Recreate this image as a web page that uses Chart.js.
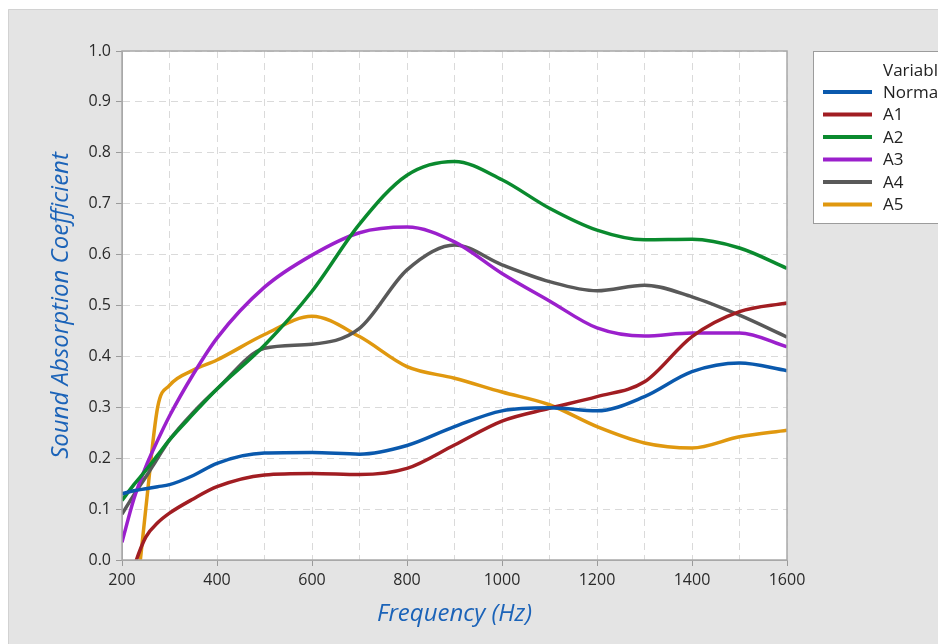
<!DOCTYPE html>
<html>
<head>
<meta charset="utf-8">
<script src="https://cdn.jsdelivr.net/npm/chart.js@4"></script>
<style>
  html, body { margin: 0; padding: 0; background: #fff; overflow: hidden; }
  #wrap { position: absolute; left: 0; top: 0; width: 938px; height: 644px; }
</style>
</head>
<body>
<div id="wrap"><canvas id="absorptionChart" width="938" height="644"></canvas></div>
<script>
// frequency points (Hz) shared by all series
const freq = [200, 225, 250, 275, 300, 350, 400, 500, 600, 700, 800, 900, 1000, 1100, 1200, 1300, 1400, 1500, 1600];

// sound absorption coefficient
const normalVals = [0.130, 0.136, 0.140, 0.144, 0.148, 0.166, 0.190, 0.210, 0.211, 0.208, 0.225, 0.262, 0.293, 0.299, 0.293, 0.321, 0.370, 0.387, 0.372];
const a1Vals     = [-0.10, -0.015, 0.045, 0.073, 0.092, 0.120, 0.144, 0.167, 0.170, 0.168, 0.180, 0.226, 0.273, 0.298, 0.321, 0.350, 0.439, 0.488, 0.505];
const a2Vals     = [0.117, 0.148, 0.176, 0.206, 0.236, 0.287, 0.336, 0.422, 0.528, 0.660, 0.756, 0.783, 0.747, 0.691, 0.648, 0.629, 0.630, 0.613, 0.573];
const a3Vals     = [0.035, 0.120, 0.183, 0.235, 0.283, 0.365, 0.436, 0.536, 0.599, 0.643, 0.654, 0.625, 0.563, 0.509, 0.456, 0.440, 0.446, 0.446, 0.419];
const a4Vals     = [0.090, 0.128, 0.163, 0.200, 0.236, 0.290, 0.336, 0.416, 0.424, 0.455, 0.570, 0.619, 0.580, 0.547, 0.529, 0.540, 0.517, 0.481, 0.438];
const a5Vals     = [-0.35, -0.12, 0.100, 0.300, 0.343, 0.373, 0.393, 0.443, 0.479, 0.439, 0.380, 0.357, 0.330, 0.305, 0.262, 0.230, 0.220, 0.242, 0.255];

const seriesNames  = ['Normal', 'A1', 'A2', 'A3', 'A4', 'A5'];
const seriesColors = ['#0a59ad', '#a11d22', '#0a8a2e', '#9b20cc', '#595959', '#e0980f'];
const seriesVals   = [normalVals, a1Vals, a2Vals, a3Vals, a4Vals, a5Vals];

const TITLE_BLUE = '#1b63b8';
const FONT = "'Open Sans', 'Noto Sans', sans-serif";

// gray panel + white plot area + plot frame
const panelPlugin = {
    id: 'panel',
    beforeDraw(chart) {
        const { ctx, chartArea: a } = chart;
        ctx.save();
        ctx.fillStyle = '#ffffff';
        ctx.fillRect(0, 0, chart.width, chart.height);
        ctx.fillStyle = '#e4e4e4';
        ctx.fillRect(8, 9, chart.width - 8, chart.height - 9);
        ctx.strokeStyle = '#d2d2d2';
        ctx.lineWidth = 1;
        ctx.beginPath();
        ctx.moveTo(8.5, chart.height);
        ctx.lineTo(8.5, 9.5);
        ctx.lineTo(chart.width, 9.5);
        ctx.stroke();
        ctx.fillStyle = '#ffffff';
        ctx.fillRect(a.left, a.top, a.right - a.left, a.bottom - a.top);
        ctx.restore();
    },
    afterDatasetsDraw(chart) {
        const { ctx, chartArea: a } = chart;
        ctx.save();
        ctx.strokeStyle = '#a8a8a8';
        ctx.lineWidth = 1.5;
        ctx.strokeRect(a.left, a.top, a.right - a.left, a.bottom - a.top);
        ctx.restore();
    }
};

// legend box on the right, cut off by the window edge like the original
const boxLegendPlugin = {
    id: 'boxLegend',
    afterDraw(chart) {
        const { ctx } = chart;
        const x0 = 813.5, y0 = 51.5;
        ctx.save();
        ctx.fillStyle = '#ffffff';
        ctx.fillRect(x0, y0, 140, 172);
        ctx.strokeStyle = '#9c9c9c';
        ctx.lineWidth = 1;
        ctx.strokeRect(x0, y0, 140, 172);
        ctx.font = '17px ' + FONT;
        ctx.fillStyle = '#222';
        ctx.textBaseline = 'middle';
        ctx.fillText('Variable', 883, 71);
        chart.data.datasets.forEach((ds, i) => {
            const y = 92 + i * 22.5;
            ctx.strokeStyle = ds.borderColor;
            ctx.lineWidth = 4;
            ctx.beginPath();
            ctx.moveTo(823, y);
            ctx.lineTo(872, y);
            ctx.stroke();
            ctx.fillStyle = '#222';
            ctx.fillText(ds.label, 883, y + 1);
        });
        ctx.restore();
    }
};

const datasets = seriesNames.map((name, i) => ({
    label: name,
    data: freq.map((f, j) => ({ x: f, y: seriesVals[i][j] })),
    borderColor: seriesColors[i],
    backgroundColor: seriesColors[i],
    borderWidth: 3.5,
    pointRadius: 0,
    cubicInterpolationMode: 'monotone',
    capBezierPoints: false,
    clip: 0
}));

new Chart(document.getElementById('absorptionChart'), {
    type: 'line',
    data: { datasets },
    options: {
        responsive: false,
        animation: false,
        layout: { padding: { left: 0, top: 51, right: 151, bottom: 0 } },
        plugins: { legend: { display: false }, tooltip: { enabled: false } },
        scales: {
            x: {
                type: 'linear',
                min: 200, max: 1600,
                afterFit: s => { s.height = 84; },
                ticks: {
                    stepSize: 100,
                    autoSkip: false,
                    maxRotation: 0,
                    padding: 5,
                    color: '#2a2a2a',
                    font: { family: FONT, size: 16 },
                    callback: v => (v % 200 === 0 ? v : '')
                },
                grid: {
                    color: '#dadada',
                    lineWidth: 1,
                    tickLength: 6,
                    tickColor: c => (c.tick && c.tick.value % 200 === 0 ? '#9a9a9a' : 'rgba(0,0,0,0)')
                },
                border: { display: true, color: '#a8a8a8', dash: [7, 5] },
                title: {
                    display: true,
                    text: 'Frequency (Hz)',
                    color: TITLE_BLUE,
                    font: { family: FONT, size: 24, style: 'italic' },
                    padding: { top: 0, bottom: 15 }
                }
            },
            y: {
                min: 0, max: 1,
                afterFit: s => { s.width = 122; },
                ticks: {
                    stepSize: 0.1,
                    padding: 5,
                    color: '#2a2a2a',
                    font: { family: FONT, size: 16 },
                    callback: v => v.toFixed(1)
                },
                grid: {
                    color: '#dadada',
                    lineWidth: 1,
                    tickLength: 6,
                    tickColor: '#9a9a9a'
                },
                border: { display: true, color: '#a8a8a8', dash: [7, 5] },
                title: {
                    display: true,
                    text: 'Sound Absorption Coefficient',
                    color: TITLE_BLUE,
                    font: { family: FONT, size: 24, style: 'italic' },
                    padding: { top: 47, bottom: 0 }
                }
            }
        }
    },
    plugins: [panelPlugin, boxLegendPlugin]
});
</script>
</body>
</html>
